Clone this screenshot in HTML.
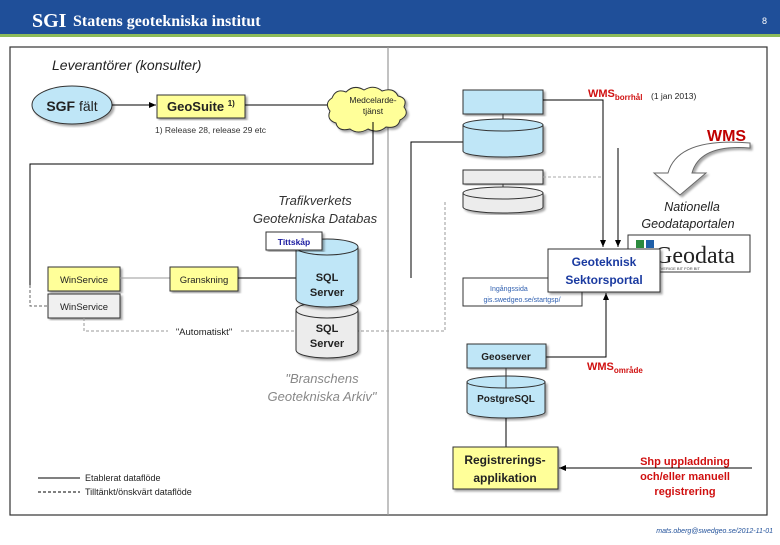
<!DOCTYPE html>
<html><head><meta charset="utf-8"><style>
body{margin:0;width:780px;height:540px;overflow:hidden;background:#fff;font-family:"Liberation Sans",sans-serif}
</style></head><body>
<svg width="780" height="540" xmlns="http://www.w3.org/2000/svg" font-family="Liberation Sans, sans-serif">
<defs>
<marker id="a" markerWidth="8" markerHeight="8" refX="7" refY="4" orient="auto" markerUnits="userSpaceOnUse"><path d="M0,1 L7,4 L0,7z" fill="#000"/></marker>
<filter id="s"><feDropShadow dx="2" dy="2" stdDeviation="1" flood-opacity="0.35"/></filter>
</defs>
<rect x="0" y="0" width="780" height="34" fill="#1f4f99"/>
<rect x="0" y="34" width="780" height="3" fill="#8dbb5a"/>
<text x="32" y="27" font-family="Liberation Serif, serif" font-size="20" fill="#fff" font-weight="bold">SGI</text>
<text x="73" y="26" font-family="Liberation Serif, serif" font-size="16" fill="#fff" font-weight="bold">Statens geotekniska institut</text>
<text x="762" y="24" font-size="9" fill="#fff">8</text>
<rect x="10" y="47" width="757" height="468" fill="none" stroke="#333" stroke-width="1.2"/>
<line x1="388" y1="47" x2="388" y2="515" stroke="#999" stroke-width="1.2"/>

<text x="52" y="70" font-size="14" font-style="italic" fill="#222">Leverantörer (konsulter)</text>
<ellipse cx="72" cy="105" rx="40" ry="19" fill="#bfe6f7" stroke="#333" filter="url(#s)"/>
<text x="72" y="111" font-size="14" font-weight="bold" text-anchor="middle" fill="#222">SGF <tspan font-weight="normal">fält</tspan></text>
<line x1="112" y1="105" x2="156" y2="105" stroke="#000" marker-end="url(#a)"/>
<rect x="157" y="95" width="88" height="23" fill="#ffff99" stroke="#333" filter="url(#s)"/>
<text x="167" y="111" font-size="13" font-weight="bold" fill="#222">GeoSuite <tspan font-size="8" dy="-5">1)</tspan></text>
<text x="155" y="133" font-size="8.5" fill="#333">1) Release 28, release 29 etc</text>
<line x1="245" y1="105" x2="328" y2="105" stroke="#000"/>
<path d="M332,98 q4,-10 14,-6 q8,-8 18,-2 q10,-6 18,1 q12,-4 16,5 q10,2 6,11 q6,8 -4,13 q-2,9 -14,7 q-8,7 -18,2 q-10,6 -18,0 q-12,3 -14,-6 q-10,-3 -6,-12 q-6,-8 2,-13z" fill="#ffff99" stroke="#333" filter="url(#s)"/>
<text x="373" y="103" font-size="8.5" text-anchor="middle" fill="#222">Medcelarde-</text>
<text x="373" y="114" font-size="8.5" text-anchor="middle" fill="#222">tjänst</text>
<polyline points="373,122 373,164 30,164 30,285" fill="none" stroke="#000"/>
<polyline points="30,285 30,306 48,306" fill="none" stroke="#666" stroke-dasharray="3,2"/>

<text x="315" y="205" font-size="13" font-style="italic" text-anchor="middle" fill="#333">Trafikverkets</text>
<text x="315" y="223" font-size="13" font-style="italic" text-anchor="middle" fill="#333">Geotekniska Databas</text>

<rect x="48" y="267" width="72" height="24" fill="#ffff99" stroke="#333" filter="url(#s)"/>
<text x="84" y="283" font-size="9.5" text-anchor="middle" fill="#222">WinService</text>
<rect x="48" y="294" width="72" height="24" fill="#f0f0f0" stroke="#333" filter="url(#s)"/>
<text x="84" y="310" font-size="9.5" text-anchor="middle" fill="#222">WinService</text>
<line x1="120" y1="278" x2="170" y2="278" stroke="#999"/>
<rect x="170" y="267" width="68" height="24" fill="#ffff99" stroke="#333" filter="url(#s)"/>
<text x="204" y="283" font-size="9.5" text-anchor="middle" fill="#222">Granskning</text>
<line x1="238" y1="278" x2="296" y2="278" stroke="#000"/>
<polyline points="84,318 84,331 445,331 445,200" fill="none" stroke="#999" stroke-dasharray="3,2"/>
<rect x="168" y="323" width="72" height="14" fill="#fff"/>
<text x="204" y="335" font-size="9.5" text-anchor="middle" fill="#222">"Automatiskt"</text>

<!-- SQL cylinders -->
<path d="M296,310 v40 a31,8 0 0 0 62,0 v-40z" fill="#ececec" stroke="#333" filter="url(#s)"/>
<ellipse cx="327" cy="310" rx="31" ry="8" fill="#ececec" stroke="#333"/>
<path d="M296,247 v52 a31,8 0 0 0 62,0 v-52z" fill="#bfe6f7" stroke="#333" filter="url(#s)"/>
<ellipse cx="327" cy="247" rx="31" ry="8" fill="#bfe6f7" stroke="#333"/>
<text x="327" y="281" font-size="11" font-weight="bold" text-anchor="middle" fill="#222">SQL</text>
<text x="327" y="296" font-size="11" font-weight="bold" text-anchor="middle" fill="#222">Server</text>
<text x="327" y="332" font-size="11" font-weight="bold" text-anchor="middle" fill="#222">SQL</text>
<text x="327" y="347" font-size="11" font-weight="bold" text-anchor="middle" fill="#222">Server</text>
<rect x="266" y="232" width="56" height="18" fill="#fff" stroke="#333" filter="url(#s)"/>
<text x="294" y="245" font-size="8.5" font-weight="bold" text-anchor="middle" fill="#1a1aa0">Tittskåp</text>
<text x="322" y="383" font-size="13" font-style="italic" text-anchor="middle" fill="#888">"Branschens</text>
<text x="322" y="401" font-size="13" font-style="italic" text-anchor="middle" fill="#888">Geotekniska Arkiv"</text>

<line x1="38" y1="478" x2="80" y2="478" stroke="#000"/>
<text x="85" y="481" font-size="9" fill="#222">Etablerat dataflöde</text>
<line x1="38" y1="492" x2="80" y2="492" stroke="#000" stroke-dasharray="3,2"/>
<text x="85" y="495" font-size="9" fill="#222">Tilltänkt/önskvärt dataflöde</text>

<!-- right side -->
<polyline points="411,278 411,142 463,142" fill="none" stroke="#000"/>
<rect x="463" y="90" width="80" height="24" fill="#bfe6f7" stroke="#333" filter="url(#s)"/>
<line x1="503" y1="114" x2="503" y2="125" stroke="#333"/>
<path d="M463,125 v26 a40,6 0 0 0 80,0 v-26z" fill="#bfe6f7" stroke="#333" filter="url(#s)"/>
<ellipse cx="503" cy="125" rx="40" ry="6" fill="#bfe6f7" stroke="#333"/>
<rect x="463" y="170" width="80" height="14" fill="#ececec" stroke="#333" filter="url(#s)"/>
<line x1="503" y1="184" x2="503" y2="193" stroke="#333"/>
<path d="M463,193 v14 a40,6 0 0 0 80,0 v-14z" fill="#ececec" stroke="#333" filter="url(#s)"/>
<ellipse cx="503" cy="193" rx="40" ry="6" fill="#ececec" stroke="#333"/>
<line x1="543" y1="177" x2="603" y2="177" stroke="#aaa" stroke-dasharray="3,2"/>
<polyline points="543,100 603,100 603,247" fill="none" stroke="#000" marker-end="url(#a)"/>
<line x1="618" y1="148" x2="618" y2="247" stroke="#000" marker-end="url(#a)"/>
<text x="588" y="97" font-size="11" font-weight="bold" fill="#d01010">WMS<tspan font-size="8" dy="3">borrhål</tspan></text>
<text x="651" y="99" font-size="8.5" fill="#222">(1 jan 2013)</text>
<text x="707" y="141" font-size="16" font-weight="bold" fill="#c00000">WMS</text>
<path d="M750,148 q-50,-4 -58,25 h14 l-26,22 l-26,-22 h14 q10,-36 82,-30z" fill="#fff" stroke="#666" filter="url(#s)"/>
<text x="692" y="211" font-size="12.5" font-style="italic" text-anchor="middle" fill="#222">Nationella</text>
<text x="688" y="228" font-size="12.5" font-style="italic" text-anchor="middle" fill="#222">Geodataportalen</text>
<rect x="628" y="235" width="122" height="37" fill="#fff" stroke="#333"/>
<rect x="636" y="240" width="8" height="8" fill="#2b8a3e"/><rect x="646" y="240" width="8" height="8" fill="#1f5fa8"/>
<text x="655" y="263" font-family="Liberation Serif, serif" font-size="24" fill="#222">Geodata</text>
<text x="658" y="270" font-size="4" fill="#444">SVERIGE BIT FÖR BIT</text>
<rect x="463" y="278" width="119" height="28" fill="#fff" stroke="#333"/>
<text x="490" y="291" font-size="7" fill="#3060b0">Ingångssida</text>
<text x="522" y="302" font-size="7" text-anchor="middle" fill="#3060b0">gis.swedgeo.se/startgsp/</text>
<rect x="548" y="249" width="112" height="43" fill="#fff" stroke="#333" filter="url(#s)"/>
<text x="604" y="266" font-size="12" font-weight="bold" text-anchor="middle" fill="#1a3aa0">Geoteknisk</text>
<text x="604" y="284" font-size="12" font-weight="bold" text-anchor="middle" fill="#1a3aa0">Sektorsportal</text>
<polyline points="546,357 606,357 606,293" fill="none" stroke="#000" marker-end="url(#a)"/>
<text x="587" y="370" font-size="11" font-weight="bold" fill="#d01010">WMS<tspan font-size="8" dy="3">område</tspan></text>
<rect x="467" y="344" width="79" height="24" fill="#bfe6f7" stroke="#333" filter="url(#s)"/>
<text x="506" y="360" font-size="10" font-weight="bold" text-anchor="middle" fill="#222">Geoserver</text>
<path d="M467,382 v30 a39,6 0 0 0 78,0 v-30z" fill="#bfe6f7" stroke="#333" filter="url(#s)"/>
<ellipse cx="506" cy="382" rx="39" ry="6" fill="#bfe6f7" stroke="#333"/>
<line x1="506" y1="368" x2="506" y2="388" stroke="#333"/>
<text x="506" y="402" font-size="10" font-weight="bold" text-anchor="middle" fill="#222">PostgreSQL</text>
<line x1="506" y1="418" x2="506" y2="447" stroke="#000"/>
<rect x="453" y="447" width="105" height="42" fill="#ffff99" stroke="#333" filter="url(#s)"/>
<text x="505" y="464" font-size="12" font-weight="bold" text-anchor="middle" fill="#222">Registrerings-</text>
<text x="505" y="482" font-size="12" font-weight="bold" text-anchor="middle" fill="#222">applikation</text>
<line x1="752" y1="468" x2="559" y2="468" stroke="#000" marker-end="url(#a)"/>
<text x="685" y="465" font-size="11" font-weight="bold" text-anchor="middle" fill="#d01010">Shp uppladdning</text>
<text x="685" y="480" font-size="11" font-weight="bold" text-anchor="middle" fill="#d01010">och/eller manuell</text>
<text x="685" y="495" font-size="11" font-weight="bold" text-anchor="middle" fill="#d01010">registrering</text>
<text x="773" y="533" font-size="7" font-style="italic" text-anchor="end" fill="#1f4f99">mats.oberg@swedgeo.se/2012-11-01</text>
</svg>
</body></html>
